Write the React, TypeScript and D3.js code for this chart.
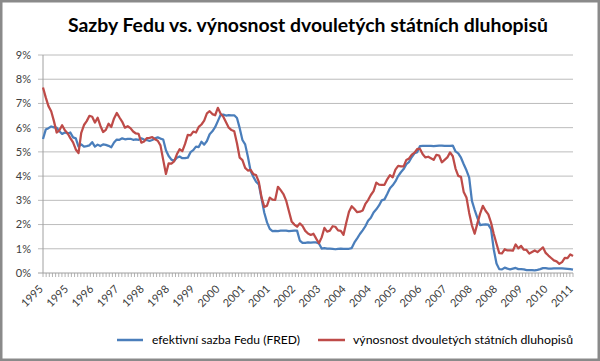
import { scaleLinear, line, range } from "d3";

// monthly averages, Jan 1995 .. Mar 2011
const fedFunds = [
  5.53, 5.92, 5.98, 6.05, 6.01, 6.0, 5.85, 5.74, 5.8, 5.76, 5.8, 5.6,
  5.56, 5.22, 5.31, 5.22, 5.24, 5.27, 5.4, 5.22, 5.3, 5.24, 5.31, 5.29,
  5.25, 5.19, 5.39, 5.51, 5.5, 5.56, 5.52, 5.54, 5.54, 5.5, 5.52, 5.5,
  5.56, 5.51, 5.49, 5.45, 5.49, 5.56, 5.6, 5.55, 5.51, 5.07, 4.83, 4.68,
  4.63, 4.76, 4.81, 4.74, 4.74, 4.76, 4.99, 5.07, 5.22, 5.2, 5.42, 5.3,
  5.45, 5.73, 5.85, 6.02, 6.27, 6.53, 6.54, 6.5, 6.52, 6.51, 6.51, 6.4,
  5.98, 5.49, 5.31, 4.8, 4.21, 3.97, 3.77, 3.65, 3.07, 2.49, 2.09, 1.82,
  1.73, 1.74, 1.73, 1.75, 1.75, 1.75, 1.73, 1.74, 1.75, 1.75, 1.34, 1.24,
  1.24, 1.26, 1.25, 1.26, 1.26, 1.22, 1.01, 1.03, 1.01, 1.01, 1.0, 0.98,
  1.0, 1.01, 1.0, 1.0, 1.0, 1.03, 1.26, 1.43, 1.61, 1.76, 1.93, 2.16,
  2.28, 2.5, 2.63, 2.79, 3.0, 3.04, 3.26, 3.5, 3.62, 3.78, 4.0, 4.16,
  4.29, 4.49, 4.59, 4.79, 4.94, 4.99, 5.24, 5.25, 5.25, 5.25, 5.25, 5.24,
  5.25, 5.26, 5.26, 5.25, 5.25, 5.25, 5.26, 5.02, 4.94, 4.76, 4.49, 4.24,
  3.94, 2.98, 2.61, 2.28, 1.98, 2.0, 2.01, 2.0, 1.81, 0.97, 0.39, 0.16,
  0.15, 0.22, 0.18, 0.15, 0.18, 0.21, 0.16, 0.16, 0.15, 0.12, 0.12, 0.12,
  0.11, 0.13, 0.16, 0.2, 0.2, 0.18, 0.18, 0.19, 0.19, 0.19, 0.19, 0.18,
  0.17, 0.16, 0.14,
];

const treasury2y = [
  7.66, 7.25, 6.89, 6.68, 6.27, 5.8, 5.89, 6.1, 5.89, 5.77, 5.57, 5.39,
  5.1, 4.95, 5.79, 6.11, 6.27, 6.49, 6.45, 6.21, 6.41, 6.08, 5.82, 5.91,
  6.16, 6.03, 6.38, 6.61, 6.42, 6.24, 6.0, 6.06, 5.98, 5.84, 5.76, 5.74,
  5.38, 5.43, 5.57, 5.58, 5.61, 5.52, 5.46, 5.27, 4.67, 4.09, 4.53, 4.52,
  4.61, 4.9, 5.11, 5.03, 5.33, 5.7, 5.68, 5.84, 5.8, 6.03, 6.13, 6.29,
  6.59, 6.68, 6.56, 6.51, 6.82, 6.58, 6.45, 6.22, 6.0, 5.9, 5.85, 5.36,
  4.76, 4.66, 4.34, 4.23, 4.26, 4.08, 4.04, 3.76, 3.12, 2.73, 2.78, 3.11,
  3.03, 3.02, 3.56, 3.42, 3.26, 2.99, 2.56, 2.13, 2.0, 1.91, 2.05, 1.94,
  1.74, 1.63, 1.57, 1.62, 1.42, 1.23, 1.47, 1.86, 1.71, 1.75, 1.93, 1.91,
  1.76, 1.74, 1.58, 2.07, 2.53, 2.76, 2.64, 2.51, 2.53, 2.58, 2.85, 3.01,
  3.22, 3.38, 3.73, 3.65, 3.64, 3.64, 3.87, 4.04, 3.95, 4.27, 4.42, 4.4,
  4.4, 4.67, 4.73, 4.89, 4.97, 5.12, 5.12, 4.9, 4.77, 4.8, 4.74, 4.67,
  4.88, 4.85, 4.57, 4.67, 4.77, 4.98, 4.82, 4.31, 4.01, 3.97, 3.34, 3.12,
  2.48, 1.97, 1.62, 2.05, 2.45, 2.77, 2.57, 2.42, 2.08, 1.61, 1.21, 0.82,
  0.81, 0.98, 0.93, 0.93, 0.92, 1.18, 1.02, 1.12, 0.96, 0.95, 0.8, 0.87,
  0.93, 0.86, 0.96, 1.06, 0.83, 0.72, 0.62, 0.52, 0.48, 0.38, 0.45, 0.62,
  0.61, 0.77, 0.7,
];

const xLabels = [
  "1995", "1995", "1996", "1997", "1998", "1998", "1999", "2000", "2001", "2001", "2002",
  "2003", "2004", "2004", "2005", "2006", "2007", "2008", "2008", "2009", "2010", "2011",
];

const yTicks = [0, 1, 2, 3, 4, 5, 6, 7, 8, 9];

const seriesNames = ["efektivní sazba Fedu (FRED)", "výnosnost dvouletých státních dluhopisů"];
const colors = ["#4a7ebb", "#be4b48"];

const W = 600;
const H = 361;
const left = 43;
const right = 573;
const top = 55;
const bottom = 273;
const font = "Lato, 'Open Sans', sans-serif";

export default function App() {
  const x = scaleLinear().domain([0, fedFunds.length - 1]).range([left, right]);
  const y = scaleLinear().domain([0, 9]).range([bottom, top]);
  const labelX = scaleLinear().domain([0, xLabels.length - 1]).range([left, right]);
  // minor ticks: 8 per label interval
  const nTicks = (xLabels.length - 1) * 8;
  const tickX = scaleLinear().domain([0, nTicks]).range([left, right]);

  const path = line<number>()
    .x((_, i) => x(i))
    .y((d) => y(d));

  return (
    <svg
      width={W}
      height={H}
      style={{ position: "absolute", left: 0, top: 0, background: "#fff" }}
      fontFamily={font}
    >
      <rect x={1.25} y={1.25} width={W - 2.5} height={H - 2.5} fill="#fff" stroke="#8a8a8a" strokeWidth={2.5} />

      <text x={308} y={32} textAnchor="middle" fontSize={19} fontWeight="bold" fill="#000" textLength={480} lengthAdjust="spacingAndGlyphs">
        Sazby Fedu vs. výnosnost dvouletých státních dluhopisů
      </text>

      {/* gridlines + y labels */}
      {yTicks.map((t) => (
        <g key={t}>
          {t > 0 && <line x1={38} x2={right} y1={y(t)} y2={y(t)} stroke="#bcbcbc" strokeWidth={1} />}
          <text x={31} y={y(t)} dy="0.35em" textAnchor="end" fontSize={11} fill="#404040">
            {t}%
          </text>
        </g>
      ))}

      {/* axes */}
      <line x1={left} x2={left} y1={top} y2={bottom} stroke="#a0a0a0" />
      <line x1={38} x2={right} y1={bottom} y2={bottom} stroke="#a0a0a0" />
      {range(nTicks + 1).map((i) => (
        <line key={i} x1={tickX(i)} x2={tickX(i)} y1={bottom} y2={bottom + 4} stroke="#a0a0a0" strokeWidth={0.8} />
      ))}
      {xLabels.map((l, i) => (
        <text
          key={i}
          transform={`translate(${labelX(i) - 2},${bottom + 14}) rotate(-45)`}
          textAnchor="end"
          dy="0.35em"
          fontSize={11}
          fill="#404040"
        >
          {l}
        </text>
      ))}

      <path d={path(fedFunds) ?? ""} fill="none" stroke={colors[0]} strokeWidth={2.25} strokeLinejoin="round" />
      <path d={path(treasury2y) ?? ""} fill="none" stroke={colors[1]} strokeWidth={2.25} strokeLinejoin="round" />

      {/* legend */}
      <line x1={117} x2={143} y1={340} y2={340} stroke={colors[0]} strokeWidth={2.5} />
      <text x={152} y={340} dy="0.35em" fontSize={11} fill="#000" textLength={148} lengthAdjust="spacingAndGlyphs">
        {seriesNames[0]}
      </text>
      <line x1={318} x2={345} y1={340} y2={340} stroke={colors[1]} strokeWidth={2.5} />
      <text x={353} y={340} dy="0.35em" fontSize={11} fill="#000" textLength={220} lengthAdjust="spacingAndGlyphs">
        {seriesNames[1]}
      </text>
    </svg>
  );
}
